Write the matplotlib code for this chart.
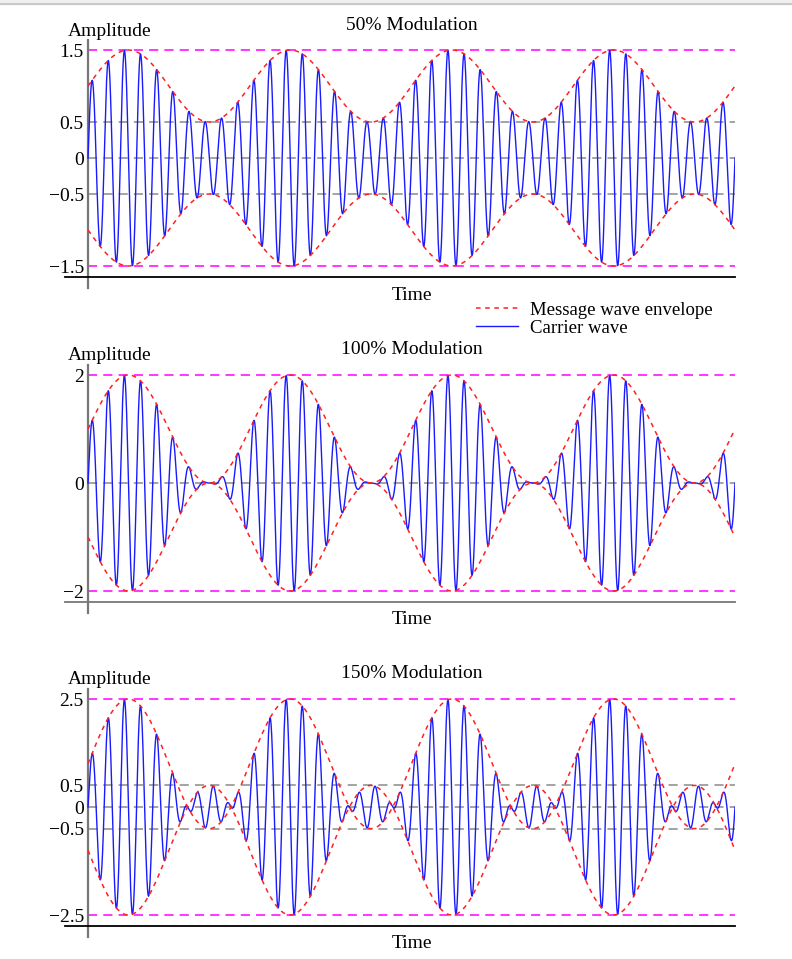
import numpy as np
import matplotlib
matplotlib.use("Agg")
import matplotlib.pyplot as plt
from matplotlib.lines import Line2D
from matplotlib.patches import Rectangle

plt.rcParams['font.family'] = ['Liberation Serif', 'DejaVu Serif']
plt.rcParams['font.size'] = 14

# ---- data ----
mod_indices = [0.5, 1.0, 1.5]
titles = ["50% Modulation", "100% Modulation", "150% Modulation"]
yticks = [[1.5, 0.5, 0, -0.5, -1.5], [2, 0, -2], [2.5, 0.5, 0, -0.5, -2.5]]
ytick_labels = [["1.5", "0.5", "0", "\u22120.5", "\u22121.5"],
                ["2", "0", "\u22122"],
                ["2.5", "0.5", "0", "\u22120.5", "\u22122.5"]]
gray_lines = [[0.5, 0, -0.5], [0], [0.5, 0, -0.5]]
message_cycles = 4
carrier_ratio = 10

t_end = 2 * np.pi * message_cycles
t = np.linspace(0, t_end, 6000)

W, H = 792, 959
fig = plt.figure(figsize=(W / 100, H / 100), dpi=100)

# top grey band (browser chrome)
fig.patches.append(Rectangle((0, 1 - 4 / H), 1, 4 / H, transform=fig.transFigure,
                             color="#f0f0f0", zorder=0))
fig.add_artist(Line2D([0, 1], [1 - 4 / H, 1 - 4 / H], transform=fig.transFigure,
                      color="#c8c8c8", lw=1.5))

# pixel layout: (axes top px, axes bottom px, px per unit)
px_left, px_spine, px_right = 65, 88, 735
layouts = [(40, 288, 72.0), (365, 613, 54.0), (689, 937, 43.2)]
bottom_colors = ["black", "#777777", "black"]

for i, m in enumerate(mod_indices):
    top_px, bot_px, ppu = layouts[i]
    ax = fig.add_axes([px_left / W, 1 - bot_px / H, (px_right - px_left) / W,
                       (bot_px - top_px) / H])
    ymax = 1 + m
    env = 1 + m * np.sin(t)
    carrier = env * np.sin(carrier_ratio * t)

    xl = -(px_spine - px_left) / (px_right - px_spine) * t_end
    ax.set_xlim(xl, t_end)
    ax.set_ylim(-ymax - 22 / ppu, ymax + 10 / ppu)

    # reference lines
    ax.hlines([ymax, -ymax], 0, t_end, colors="#ff00ff", linestyles=(0, (6, 4)), lw=1.1, zorder=1)
    ax.hlines(gray_lines[i], 0, t_end, colors="#8a8a8a", linestyles=(0, (6, 4)), lw=1.1, zorder=1)

    ax.plot(t, carrier, color="#1a1aff", lw=1.0, zorder=3)
    ax.plot(t, env, color="#ff2020", lw=1.1, ls=(0, (3, 3)), zorder=4)
    ax.plot(t, -env, color="#ff2020", lw=1.1, ls=(0, (3, 3)), zorder=4)

    for s in ["top", "right"]:
        ax.spines[s].set_visible(False)
    ax.spines["left"].set_position(("data", 0))
    ax.spines["left"].set_color("#777777")
    ax.spines["left"].set_linewidth(1.6)
    ax.spines["bottom"].set_position(("data", -ymax - 11 / ppu))
    ax.spines["bottom"].set_color(bottom_colors[i])
    ax.spines["bottom"].set_linewidth(1.3)

    ax.set_xticks([])
    ax.set_yticks(yticks[i])
    ax.set_yticklabels(ytick_labels[i])
    ax.tick_params(axis="y", length=0, pad=3)
    ax.patch.set_alpha(0)

    # texts
    cx = ((px_spine + px_right) / 2) / W
    fig.text(cx, 1 - (top_px - 15) / H, titles[i], ha="center", va="center")
    fig.text(68 / W, 1 - (top_px - 9) / H, "Amplitude", ha="left", va="center")
    fig.text(cx, 1 - (bot_px + 7) / H, "Time", ha="center", va="center")

handles = [Line2D([], [], color="#ff2020", lw=1.1, ls=(0, (3, 3))),
           Line2D([], [], color="#1a1aff", lw=1.0)]
fig.legend(handles, ["Message wave envelope", "Carrier wave"], loc="upper left",
           bbox_to_anchor=(467 / W, 1 - 292 / H), frameon=False, handlelength=2.2,
           handletextpad=0.65, labelspacing=0.05, borderpad=0, fontsize=13.5)

fig.savefig("out.png", dpi=100)
